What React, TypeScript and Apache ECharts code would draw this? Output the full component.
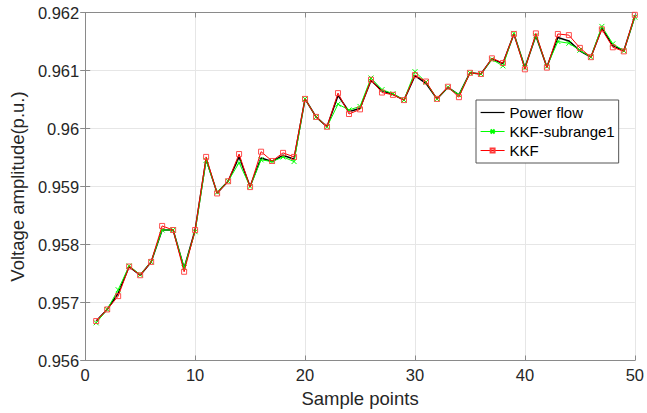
import React, { useEffect, useRef } from "react";
import * as echarts from "echarts";

const samples = [1,2,3,4,5,6,7,8,9,10,11,12,13,14,15,16,17,18,19,20,21,22,23,24,25,26,27,28,29,30,31,32,33,34,35,36,37,38,39,40,41,42,43,44,45,46,47,48,49,50];

const powerFlow = [
  0.95668, 0.95688, 0.95716, 0.95762, 0.95747, 0.95770, 0.95825, 0.95825, 0.95759, 0.95825,
  0.95947, 0.95889, 0.95909, 0.95951, 0.95900, 0.95949, 0.95943, 0.95954, 0.95947, 0.96051,
  0.96020, 0.96003, 0.96057, 0.96029, 0.96035, 0.96083, 0.96065, 0.96059, 0.96049, 0.96091,
  0.96078, 0.96051, 0.96071, 0.96058, 0.96096, 0.96094, 0.96120, 0.96112, 0.96163, 0.96105,
  0.96160, 0.96106, 0.96157, 0.96151, 0.96134, 0.96123, 0.96173, 0.96143, 0.96134, 0.96193,
];

const kkfSubrange1 = [
  0.95665, 0.95688, 0.95722, 0.95763, 0.95748, 0.95770, 0.95825, 0.95825, 0.95760, 0.95822,
  0.95945, 0.95890, 0.95909, 0.95941, 0.95900, 0.95946, 0.95943, 0.95951, 0.95943, 0.96051,
  0.96020, 0.96003, 0.96042, 0.96032, 0.96038, 0.96087, 0.96067, 0.96060, 0.96049, 0.96098,
  0.96080, 0.96051, 0.96071, 0.96058, 0.96096, 0.96094, 0.96119, 0.96108, 0.96164, 0.96105,
  0.96160, 0.96107, 0.96150, 0.96147, 0.96135, 0.96123, 0.96176, 0.96146, 0.96134, 0.96192,
];

const kkf = [
  0.95668, 0.95688, 0.95711, 0.95762, 0.95747, 0.95770, 0.95832, 0.95825, 0.95753, 0.95825,
  0.95951, 0.95888, 0.95909, 0.95956, 0.95899, 0.95960, 0.95944, 0.95958, 0.95951, 0.96051,
  0.96020, 0.96003, 0.96061, 0.96025, 0.96033, 0.96084, 0.96062, 0.96058, 0.96049, 0.96092,
  0.96081, 0.96051, 0.96072, 0.96054, 0.96096, 0.96094, 0.96121, 0.96113, 0.96163, 0.96102,
  0.96164, 0.96105, 0.96163, 0.96161, 0.96139, 0.96123, 0.96171, 0.96140, 0.96133, 0.96196,
];

const seriesNames = ["Power flow", "KKF-subrange1", "KKF"];

const FONT = "'Liberation Sans', Arial, sans-serif";
const TEXT = "#262626";
const AXIS = "#8a8a8a";
const GRID = "#e6e6e6";

const pairs = (ys: number[]) => samples.map((x, i) => [x, ys[i]]);

const CROSS = "path://M0,0L10,10M10,0L0,10";
const SQUARE = "path://M0,0L10,0L10,10L0,10Z";

export default function App() {
  const ref = useRef<HTMLDivElement>(null);
  useEffect(() => {
    if (!ref.current) return;
    const chart = echarts.init(ref.current, null, { renderer: "svg" });
    const xCommon = {
      type: "value" as const,
      min: 0,
      max: 50,
      interval: 10,
      axisLine: { show: true, lineStyle: { color: AXIS, width: 1 } },
      axisTick: { show: true, inside: true, length: 5, lineStyle: { color: AXIS } },
    };
    const yCommon = {
      type: "value" as const,
      min: 0.956,
      max: 0.962,
      interval: 0.001,
      axisLine: { show: true, lineStyle: { color: AXIS, width: 1 } },
      axisTick: { show: true, inside: true, length: 5, lineStyle: { color: AXIS } },
    };
    chart.setOption({
      animation: false,
      backgroundColor: "#ffffff",
      grid: { left: 80, right: 9, top: 12.5, bottom: 52.5, containLabel: false },
      xAxis: [
        {
          ...xCommon,
          position: "bottom",
          name: "Sample points",
          nameLocation: "middle",
          nameGap: 28,
          nameTextStyle: { color: TEXT, fontSize: 18.5, fontFamily: FONT },
          axisLabel: { color: TEXT, fontSize: 16.5, fontFamily: FONT, margin: 6 },
          splitLine: { show: true, lineStyle: { color: GRID, width: 1 } },
        },
        {
          ...xCommon,
          position: "top",
          axisLabel: { show: false },
          splitLine: { show: false },
        },
      ],
      yAxis: [
        {
          ...yCommon,
          position: "left",
          name: "Voltage amplitude(p.u.)",
          nameLocation: "middle",
          nameGap: 52,
          nameTextStyle: { color: TEXT, fontSize: 18.5, fontFamily: FONT },
          axisLabel: { color: TEXT, fontSize: 16.5, fontFamily: FONT, margin: 6 },
          splitLine: { show: true, lineStyle: { color: GRID, width: 1 } },
        },
        {
          ...yCommon,
          position: "right",
          axisLabel: { show: false },
          splitLine: { show: false },
        },
      ],
      legend: {
        left: 476,
        top: 100,
        orient: "vertical",
        data: [
          { name: seriesNames[0], itemStyle: { opacity: 0 }, lineStyle: { width: 1.2 } },
          { name: seriesNames[1], lineStyle: { width: 1 } },
          { name: seriesNames[2], lineStyle: { width: 1 } },
        ],
        itemWidth: 24,
        itemHeight: 5,
        itemGap: 4,
        padding: [5, 4, 5, 4],
        borderColor: "#555555",
        borderWidth: 1,
        backgroundColor: "#ffffff",
        textStyle: { color: "#000000", fontSize: 15, fontFamily: FONT },
      },
      series: [
        {
          name: seriesNames[0],
          type: "line",
          data: pairs(powerFlow),
          symbol: "none",
          lineStyle: { color: "#000000", width: 1.5 },
          itemStyle: { color: "#000000" },
          z: 2,
        },
        {
          name: seriesNames[1],
          type: "line",
          data: pairs(kkfSubrange1),
          symbol: CROSS,
          symbolSize: 5,
          lineStyle: { color: "#00ff00", width: 1 },
          itemStyle: { color: "rgba(0,0,0,0)", borderColor: "#00ff00", borderWidth: 1 },
          z: 3,
        },
        {
          name: seriesNames[2],
          type: "line",
          data: pairs(kkf),
          symbol: SQUARE,
          symbolSize: 5,
          lineStyle: { color: "#ff0000", width: 1 },
          itemStyle: { color: "rgba(0,0,0,0)", borderColor: "#ff3b3b", borderWidth: 0.9 },
          z: 4,
        },
      ],
    });
    return () => chart.dispose();
  }, []);
  return (
    <div
      ref={ref}
      style={{ position: "fixed", left: 0, top: 0, width: 647, height: 413, background: "#fff" }}
    />
  );
}
